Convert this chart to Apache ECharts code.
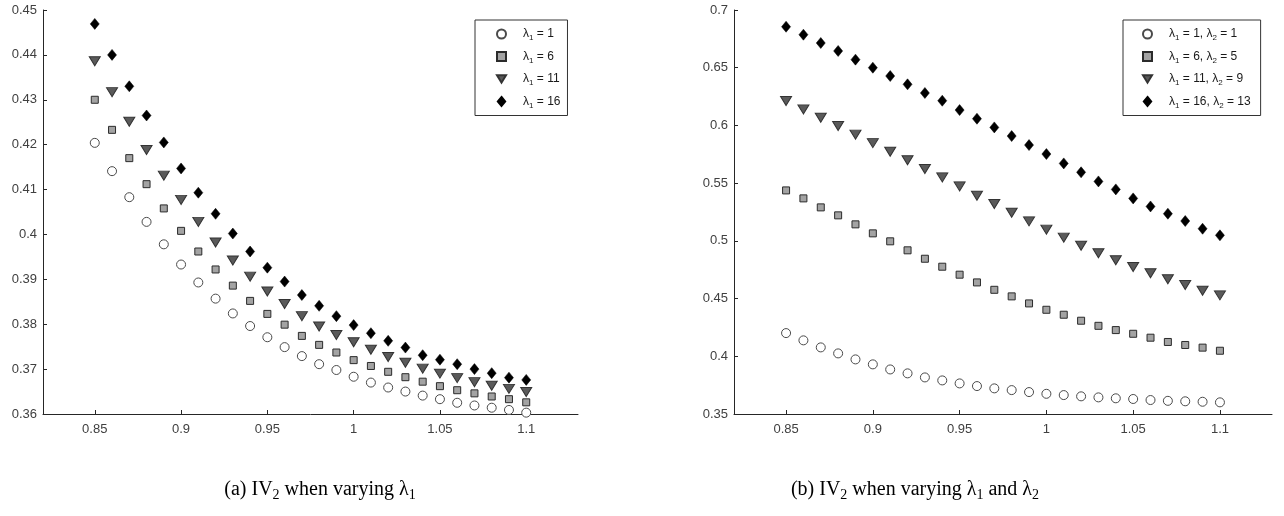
<!DOCTYPE html>
<html>
<head>
<meta charset="utf-8">
<script src="https://cdn.jsdelivr.net/npm/echarts@6/dist/echarts.min.js"></script>
<style>
html,body{margin:0;padding:0;background:#fff;}
#c{width:1284px;height:516px;}
</style>
</head>
<body>
<div id="c"></div>
<script>
// ---- data ----
const xValues = [0.85,0.86,0.87,0.88,0.89,0.90,0.91,0.92,0.93,0.94,0.95,0.96,0.97,0.98,0.99,1.00,1.01,1.02,1.03,1.04,1.05,1.06,1.07,1.08,1.09,1.10];
const xTicks = [0.85,0.9,0.95,1,1.05,1.1];
const yTicksA = [0.36,0.45,0.01];
const yTicksB = [0.35,0.7,0.05];

const namesA = ['λ1 = 1','λ1 = 6','λ1 = 11','λ1 = 16'];
const a1  = [0.4204,0.4141,0.4083,0.4028,0.3978,0.3933,0.3893,0.3857,0.3824,0.3796,0.3771,0.3749,0.3729,0.3711,0.3698,0.3683,0.3670,0.3659,0.3650,0.3641,0.3633,0.3625,0.3619,0.3614,0.3609,0.3603];
const a6  = [0.4300,0.4233,0.4170,0.4112,0.4058,0.4008,0.3962,0.3922,0.3886,0.3852,0.3823,0.3799,0.3774,0.3754,0.3737,0.3720,0.3707,0.3694,0.3682,0.3672,0.3662,0.3653,0.3646,0.3639,0.3633,0.3626];
const a11 = [0.4386,0.4317,0.4251,0.4188,0.4131,0.4077,0.4028,0.3982,0.3942,0.3906,0.3873,0.3845,0.3818,0.3795,0.3776,0.3760,0.3743,0.3727,0.3714,0.3701,0.3690,0.3680,0.3671,0.3663,0.3656,0.3649];
const a16 = [0.4469,0.4400,0.4330,0.4265,0.4205,0.4147,0.4093,0.4046,0.4002,0.3962,0.3926,0.3895,0.3865,0.3841,0.3818,0.3798,0.3780,0.3763,0.3748,0.3731,0.3721,0.3711,0.3700,0.3691,0.3681,0.3676];

const namesB = ['λ1 = 1, λ2 = 1','λ1 = 6, λ2 = 5','λ1 = 11, λ2 = 9','λ1 = 16, λ2 = 13'];
const b1 = [0.4201,0.4138,0.4077,0.4025,0.3973,0.3930,0.3886,0.3852,0.3817,0.3791,0.3765,0.3742,0.3722,0.3707,0.3690,0.3675,0.3664,0.3653,0.3644,0.3636,0.3630,0.3621,0.3614,0.3610,0.3606,0.3601];
const b2 = [0.5437,0.5368,0.5290,0.5221,0.5143,0.5065,0.4996,0.4918,0.4845,0.4776,0.4707,0.4640,0.4576,0.4519,0.4458,0.4403,0.4360,0.4308,0.4264,0.4227,0.4195,0.4161,0.4124,0.4098,0.4075,0.4048];
const b3 = [0.6211,0.6139,0.6067,0.5995,0.5920,0.5847,0.5772,0.5698,0.5622,0.5550,0.5472,0.5391,0.5319,0.5244,0.5169,0.5097,0.5028,0.4958,0.4892,0.4832,0.4774,0.4719,0.4667,0.4617,0.4568,0.4528];
const b4 = [0.6855,0.6786,0.6714,0.6645,0.6570,0.6500,0.6428,0.6356,0.6281,0.6214,0.6133,0.6058,0.5983,0.5908,0.5830,0.5752,0.5671,0.5594,0.5515,0.5446,0.5368,0.5298,0.5235,0.5172,0.5105,0.5048];

const captionA = '(a) IV_2 when varying λ_1';
const captionB = '(b) IV_2 when varying λ_1 and λ_2';

// ---- styles ----
const markerStyles = [
  {symbol:'circle', symbolSize:9, symbolRotate:0, itemStyle:{color:'#ffffff', borderColor:'#4a4a4a', borderWidth:1, opacity:1}},
  {symbol:'rect', symbolSize:7, symbolRotate:0, itemStyle:{color:'#a3a3a3', borderColor:'#2b2b2b', borderWidth:1, opacity:1}},
  {symbol:'triangle', symbolSize:[11,9], symbolRotate:180, itemStyle:{color:'#5a5a5a', borderColor:'#333333', borderWidth:1, opacity:1}},
  {symbol:'diamond', symbolSize:[9,11], symbolRotate:0, itemStyle:{color:'#000000', borderColor:'#000000', borderWidth:0.5, opacity:1}}
];
const legendIcons = ['circle', 'path://M0,0L6,0L6,6L0,6Z', 'path://M0,0L11,0L5.5,9Z', 'path://M4.5,0L9,5.5L4.5,11L0,5.5Z'];
const axisColor = '#262626';
const labelColor = '#404040';
const font = 'Liberation Sans, Arial, sans-serif';

function lambdaRich(name){
  return name.replace(/λ(\d)/g, (m,d)=>'{l|λ}{s|'+d+'}').split(/(\{[ls]\|[^}]*\})/).map(p=>{
    if(!p) return '';
    if(p.startsWith('{')) return p;
    return '{t|'+p+'}';
  }).join('');
}
const legendRich = {
  l:{fontFamily:font, fontSize:12, color:'#1a1a1a', lineHeight:14},
  t:{fontFamily:font, fontSize:12, color:'#1a1a1a', lineHeight:14},
  s:{fontFamily:font, fontSize:8, color:'#1a1a1a', lineHeight:14, padding:[8,0,0,0]}
};

function captionRich(txt){
  return txt.replace(/_(\S)/g, (m,d)=>'{s|'+d+'}').split(/(\{s\|[^}]*\})/).map(p=>{
    if(!p) return '';
    if(p.startsWith('{')) return p;
    return '{t|'+p+'}';
  }).join('');
}
const capRich = {
  t:{fontFamily:'Liberation Serif, serif', fontSize:20, color:'#000', lineHeight:26},
  s:{fontFamily:'Liberation Serif, serif', fontSize:14, color:'#000', lineHeight:26, padding:[10,0,0,0]}
};

function makeX(i){
  return {
    type:'value', gridIndex:i, min:0.82, max:1.13,
    axisLine:{show:true, onZero:false, lineStyle:{color:axisColor, width:1}},
    axisTick:{show:true, inside:true, length:4, lineStyle:{color:axisColor}, customValues:xTicks},
    axisLabel:{color:labelColor, fontFamily:font, fontSize:13, margin:9, customValues:xTicks},
    splitLine:{show:false}
  };
}
function makeY(i, t){
  return {
    type:'value', gridIndex:i, min:t[0], max:t[1], interval:t[2],
    axisLine:{show:true, lineStyle:{color:axisColor, width:1}},
    axisTick:{show:true, inside:true, length:4, lineStyle:{color:axisColor}},
    axisLabel:{color:labelColor, fontFamily:font, fontSize:13, margin:6},
    splitLine:{show:false}
  };
}
function makeSeries(names, arrs, gi){
  return arrs.map((arr,k)=>Object.assign({
    type:'scatter', name:names[k], xAxisIndex:gi, yAxisIndex:gi,
    data: xValues.map((x,j)=>[x, arr[j]]),
    animation:false, z: 2+k
  }, markerStyles[k]));
}
function makeLegend(names, left, top, padding){
  return {
    data:names.map((n,k)=>({name:n, icon:legendIcons[k], symbolRotate:0})),
    orient:'vertical', left:left, top:top,
    backgroundColor:'#fff', borderColor:'#333', borderWidth:1,
    padding:padding, itemGap:6.5, itemWidth:9, itemHeight:9,
    symbolKeepAspect:true,
    formatter: lambdaRich,
    textStyle:{rich:legendRich, padding:[0,0,0,12]},
    selectedMode:false
  };
}

const chart = echarts.init(document.getElementById('c'), null, {renderer:'canvas'});
chart.setOption({
  backgroundColor:'#ffffff',
  animation:false,
  grid:[
    {left:43, top:10, width:535, height:404},
    {left:734, top:10, width:538, height:404}
  ],
  xAxis:[makeX(0), makeX(1)],
  yAxis:[makeY(0, yTicksA), makeY(1, yTicksB)],
  legend:[
    makeLegend(namesA, 475, 20, [6,7,6,21]),
    makeLegend(namesB, 1123, 20, [6,10,6,19])
  ],
  series: makeSeries(namesA, [a1,a6,a11,a16], 0).concat(makeSeries(namesB, [b1,b2,b3,b4], 1)),
  graphic:[
    {type:'text', x:320, y:490, style:{text:captionRich(captionA), rich:capRich, align:'center', verticalAlign:'middle'}},
    {type:'text', x:915, y:490, style:{text:captionRich(captionB), rich:capRich, align:'center', verticalAlign:'middle'}}
  ]
});
</script>
</body>
</html>
